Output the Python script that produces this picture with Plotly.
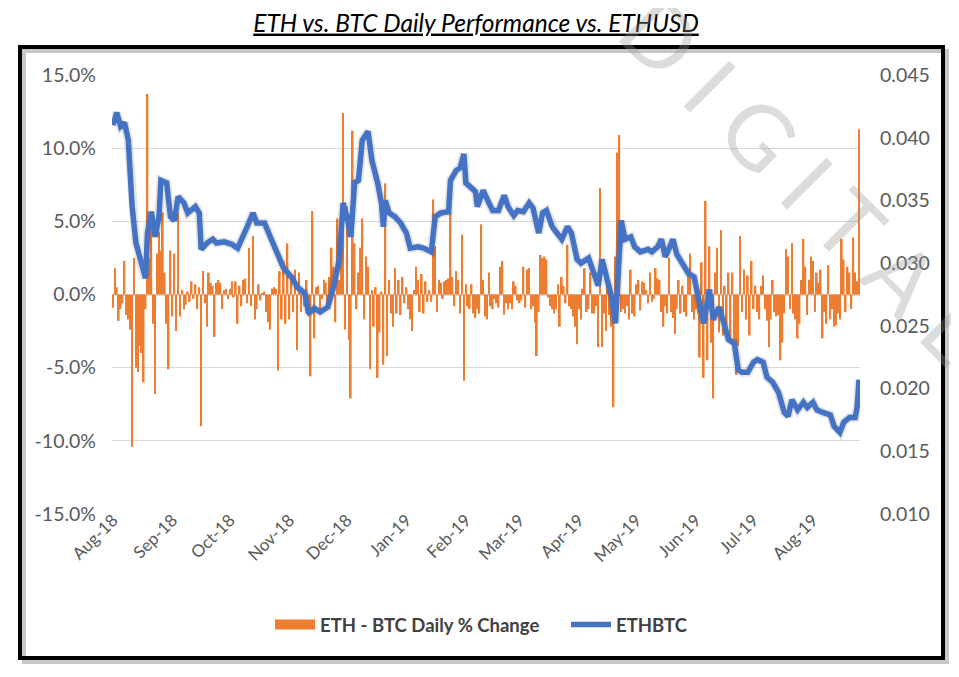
import pandas as pd
import plotly.graph_objects as go

# ---------------- data ----------------
start_date = "2018-08-01"

# ETH - BTC daily % change (one value per day from start_date)
change_pct = [
    -0.9, 1.8, 0.5, -1.8, -1.0, -0.6, 2.3, -1.4, -1.7, -2.4,
    -10.4, 2.5, -5.0, -5.3, -3.5, -4.0, -6.0, -1.0, 13.7, 2.5,
    5.5, -2.0, -6.8, 2.8, 4.3, 3.0, 5.6, 1.5, -2.0, -5.1,
    3.0, -1.5, 2.8, -2.5, 5.6, -1.5, 0.3, -1.0, -0.7, 0.2,
    -0.5, 0.9, -0.3, 0.7, -1.0, 0.5, -9.0, 1.6, -0.6, -2.2,
    1.5, 0.8, 0.6, -2.9, 0.8,
    1.0, 0.8, -1.0, 0.3, 0.4, -0.3, 0.4, 0.9, -0.2, 0.9,
    -2.0, 0.6, -0.8, 1.0, 1.1, -0.6, 3.2, -0.8, 4.0, -1.7,
    -1.0, 0.7, -0.4, 0.1, 0.2, -1.2, -1.9, -2.4, 0.4, 0.5,
    0.4, -5.2, 1.6, -1.7, 2.3, -2.0, 3.5, -1.7, 1.0, -1.2,
    1.7, -3.8, 1.5, -1.2, 0.2, -0.8, 1.0, -1.5, -5.6, 5.7,
    -3.0, 0.5, 0.6, -1.0, -0.3, 1.0,
    0.8, -0.8, 1.2, 3.2, 1.9, -1.9, 5.2, 1.0, 4.0, 12.4,
    -2.4, 6.0, -3.1, -7.1, 11.2, 3.5, -1.0, 1.5, 3.2, 5.2,
    -1.7, 2.6, 1.9, -5.1, 0.3, -2.2, 0.5, -5.7, -2.6, 0.2,
    -4.8, 7.6, -4.2, 1.0, -1.3, -2.2, 1.8, -1.3, 1.0, -1.4,
    1.2, -0.6, 0.5, -1.0, -1.7, -2.5, 0.3, 1.9, 1.0, -1.2,
    1.4, -1.3, 0.9, -0.5, 0.3, -0.5, 6.5,
    3.3, -1.2, 1.0, 0.8, -0.3, 0.9, 1.0, 1.1, 5.6, 1.2,
    -0.8, 1.6, 1.0, -1.3, 4.1, -5.9, 0.7, -0.8, -1.0, 0.7,
    -1.3, -1.6, -1.0, -1.3, 4.8, 1.0, -1.5, -1.7, 1.5, -0.8,
    -1.0, -0.3, -0.6, -0.9, 1.9, 2.3, -1.4, -0.6, -1.0, -0.6,
    -1.0, 0.9, 0.6, -0.4, -0.6, -0.4, 1.9, -0.9, 1.7, 1.8,
    -1.0, -0.8, -1.9, -4.2, -1.2, 2.7,
    2.5, 2.6, 2.4, -0.2, -0.8, -1.0, -1.3, -1.0, 0.7, -2.2,
    1.2, 0.6, -0.6, 3.4, -0.8, -1.0, -1.5, -2.2, -3.4, -1.0,
    -1.7, 0.4, 1.8, -1.2, -1.0, 1.5, -1.3, -1.3, -0.8, -3.6,
    7.3, -3.6, -1.3, -2.5, 1.2, -1.4, -2.2, -7.7, 2.6, 9.7,
    10.9, -1.2, -1.0, -1.3, -0.8, -1.7, 1.7, -1.3, -1.5, 0.7,
    1.0, -1.1, 0.9, 0.8, 0.3, -0.6, 1.5,
    -0.5, -0.3, 1.8, 1.1, 1.0, -1.2, -2.2, -0.8, -1.3, 2.5,
    -1.2, -1.6, -2.7, -1.0, 1.0, -1.3, 0.6, -1.2, -1.5, 1.3,
    2.8, -1.2, -1.7, -1.0, -1.3, -4.3, 2.2, -5.7, 6.4, -4.5,
    3.3, -3.3, -7.1, 1.5, 3.2, -2.6, 4.4, -2.8, 0.6, -2.4,
    1.5, -3.3, 1.5, -3.5, -5.5, -3.5, 4.0, -1.2, 1.7, -1.7,
    1.3, -2.8, 2.3, -1.0, 0.6, -1.2,
    -1.7, 0.6, 1.3, -1.0, -1.8, -3.6, -1.7, 1.0, -1.2, -1.5,
    -1.4, -4.5, -3.3, -1.3, 3.1, 2.6, -1.0, 3.5, -1.3, -1.7,
    -3.0, -2.0, 1.0, 3.8, 1.9, -1.4, 1.0, 2.6, 2.3, -1.2,
    1.5, 0.8, 1.7, -3.0, -1.2, -2.0, 2.0, -1.7, -1.0, -2.2,
    -2.1, -1.3, -1.7, 3.8, 2.4, -1.2, 1.9, 1.5, -1.0, 3.9,
    1.5, 0.9, 11.3,
]

# ETHBTC price (day offset from start_date, value)
ethbtc_day = [
    0, 2, 4, 6, 8, 10, 12, 15, 17, 18, 20, 22, 24, 25, 28, 30, 32, 34, 37, 39,
    43, 45, 46, 49, 52, 54, 58, 62, 65, 70, 73, 75, 79, 82, 86, 89, 93, 96, 100, 102,
    105, 108, 112, 115, 118, 120, 122, 124, 126, 128, 130, 133, 135, 136, 138, 140, 141, 142, 144, 147,
    150, 153, 155, 159, 162, 166, 168, 171, 175, 176, 179, 181, 183, 184, 186, 189, 190, 193, 196, 198,
    201, 204, 206, 209, 211, 214, 217, 219, 222, 224, 226, 229, 231, 234, 237, 239, 242, 244, 248, 251,
    253, 255, 258, 260, 262, 264, 265, 267, 270, 272, 275, 279, 281, 284, 286, 288, 292, 294, 297, 300,
    303, 306, 308, 311, 313, 316, 319, 321, 324, 326, 328, 331, 334, 336, 339, 341, 344, 347, 350, 352,
    354, 357, 360, 362, 365, 367, 370, 374, 376, 379, 381, 384, 387, 388, 389,
]
ethbtc_val = [
    0.0410, 0.0420, 0.0409, 0.0412, 0.0398, 0.0345, 0.0316, 0.0297, 0.0288, 0.0324,
    0.0341, 0.0321, 0.0337, 0.0366, 0.0364, 0.0337, 0.0334, 0.0353, 0.0348, 0.0340,
    0.0345, 0.0340, 0.0311, 0.0316, 0.0319, 0.0316, 0.0317, 0.0315, 0.0312, 0.0329,
    0.0340, 0.0332, 0.0332, 0.0321, 0.0305, 0.0296, 0.0289, 0.0281, 0.0276, 0.0260,
    0.0264, 0.0261, 0.0265, 0.0281, 0.0303, 0.0348, 0.0337, 0.0321, 0.0364, 0.0366,
    0.0398, 0.0405, 0.0382, 0.0377, 0.0364, 0.0348, 0.0329, 0.0350, 0.0340, 0.0337,
    0.0332, 0.0324, 0.0312, 0.0313, 0.0312, 0.0309, 0.0337, 0.0340, 0.0341, 0.0366,
    0.0374, 0.0376, 0.0387, 0.0364, 0.0361, 0.0357, 0.0345, 0.0358, 0.0348, 0.0342,
    0.0342, 0.0354, 0.0345, 0.0338, 0.0342, 0.0341, 0.0348, 0.0344, 0.0324, 0.0340,
    0.0342, 0.0329, 0.0325, 0.0319, 0.0329, 0.0324, 0.0303, 0.0300, 0.0304, 0.0292,
    0.0282, 0.0303, 0.0284, 0.0273, 0.0252, 0.0303, 0.0334, 0.0319, 0.0321, 0.0313,
    0.0309, 0.0311, 0.0309, 0.0313, 0.0319, 0.0305, 0.0319, 0.0307, 0.0300, 0.0292,
    0.0289, 0.0268, 0.0252, 0.0279, 0.0255, 0.0265, 0.0249, 0.0239, 0.0236, 0.0215,
    0.0213, 0.0213, 0.0221, 0.0223, 0.0221, 0.0209, 0.0205, 0.0197, 0.0181, 0.0178,
    0.0191, 0.0183, 0.0189, 0.0185, 0.0189, 0.0183, 0.0181, 0.0179, 0.0170, 0.0165,
    0.0173, 0.0177, 0.0177, 0.0185, 0.0207,
]

left_tickvals = [-15, -10, -5, 0, 5, 10, 15]
left_ticktext = ["-15.0%", "-10.0%", "-5.0%", "0.0%", "5.0%", "10.0%", "15.0%"]
right_tickvals = [0.010, 0.015, 0.020, 0.025, 0.030, 0.035, 0.040, 0.045]

title_text = "ETH vs. BTC Daily Performance vs. ETHUSD"
bar_name = "ETH - BTC Daily % Change"
line_name = "ETHBTC"
watermark = "D I G I T A L"

# ---------------- build ----------------
t0 = pd.Timestamp(start_date)
bar_dates = pd.date_range(t0, periods=len(change_pct), freq="D")
line_dates = [t0 + pd.Timedelta(days=d) for d in ethbtc_day]

# page body has an 8px margin: lay out in page pixels, then offset
OFF = 8
PAGE_W, PAGE_H = 959, 677
W, H = PAGE_W - OFF, PAGE_H - OFF
PLOT_L, PLOT_R, PLOT_T, PLOT_B = 112, 860, 75, 514
ML = PLOT_L - OFF
MT = PLOT_T - OFF
MR = W - (PLOT_R - OFF)
MB = H - (PLOT_B - OFF)
PW, PH = PLOT_R - PLOT_L, PLOT_B - PLOT_T


def px_x(x):
    return (x - PLOT_L) / PW


def px_y(y):
    return (PLOT_B - y) / PH


def cont_x(x):
    return (x - OFF) / W


def cont_y(y):
    return 1 - (y - OFF) / H


fig = go.Figure()
fig.add_trace(go.Bar(
    x=bar_dates, y=change_pct, name=bar_name, showlegend=False,
    marker=dict(color="#ED7D31", line=dict(width=0)),
    width=0.9 * 86400000, yaxis="y",
))
# legend entry for the bars (wide orange swatch like the original)
fig.add_trace(go.Scatter(
    x=[None], y=[None], mode="lines", name=bar_name,
    line=dict(color="#ED7D31", width=14), yaxis="y",
))
fig.add_trace(go.Scatter(
    x=line_dates, y=ethbtc_val, mode="lines", showlegend=False, hoverinfo="skip",
    line=dict(color="rgba(0,0,0,0.10)", width=9), yaxis="y2",
))
fig.add_trace(go.Scatter(
    x=line_dates, y=ethbtc_val, mode="lines", name=line_name,
    line=dict(color="#4472C4", width=5.5), yaxis="y2",
))

tick_font = dict(family="Lato", size=17, color="#595959")
ytick_font = dict(family="Lato", size=19.5, color="#595959")

fig.update_layout(
    width=W, height=H,
    margin=dict(l=ML, r=MR, t=MT, b=MB),
    paper_bgcolor="white", plot_bgcolor="white",
    showlegend=True,
    title=dict(
        text=title_text, x=cont_x(476), xref="container", xanchor="center",
        y=cont_y(23), yref="container", yanchor="middle",
        font=dict(family="Lato", size=24.5, color="black", style="italic", lineposition="under"),
    ),
    xaxis=dict(
        type="date",
        range=[t0 - pd.Timedelta(hours=12), bar_dates[-1] + pd.Timedelta(hours=12)],
        tickformat="%b-%y", dtick="M1", tick0=start_date, tickangle=-45,
        showgrid=False, zeroline=False, showline=False, ticks="",
        tickfont=tick_font, ticklabelstandoff=0,
        anchor="free", position=8 / PH,
    ),
    yaxis=dict(
        range=[-15, 15], tickvals=left_tickvals, ticktext=left_ticktext,
        showgrid=True, gridcolor="#D9D9D9", gridwidth=1.3,
        zeroline=True, zerolinecolor="#D9D9D9", zerolinewidth=2,
        showline=False, ticks="", tickfont=ytick_font, ticklabelstandoff=15,
    ),
    yaxis2=dict(
        range=[0.010, 0.045], tickvals=right_tickvals, tickformat=".3f",
        overlaying="y", side="right", showgrid=False, zeroline=False,
        showline=False, ticks="", tickfont=ytick_font, ticklabelstandoff=19,
    ),
    legend=dict(
        orientation="h", x=cont_x(270), xref="container", xanchor="left",
        y=cont_y(625), yref="container", yanchor="middle",
        font=dict(family="Lato", size=18.5, color="#404040", weight="bold"),
        itemwidth=40, bgcolor="rgba(0,0,0,0)",
        entrywidth=241, entrywidthmode="pixels",
    ),
)

# outer frame with soft shadow
fig.add_shape(type="rect", xref="paper", yref="paper",
              x0=px_x(24), x1=px_x(947), y0=px_y(51), y1=px_y(662),
              line=dict(color="rgba(0,0,0,0.22)", width=4), layer="below")
fig.add_shape(type="rect", xref="paper", yref="paper",
              x0=px_x(20), x1=px_x(943), y0=px_y(47), y1=px_y(658),
              line=dict(color="black", width=4))

# watermark
fig.add_annotation(
    text=watermark, xref="paper", yref="paper", x=px_x(805), y=px_y(178),
    xanchor="center", yanchor="middle",
    showarrow=False, textangle=45,
    font=dict(family="Lato", size=90, color="rgba(150,150,150,0.33)"),
)

fig.write_html("out.html")
